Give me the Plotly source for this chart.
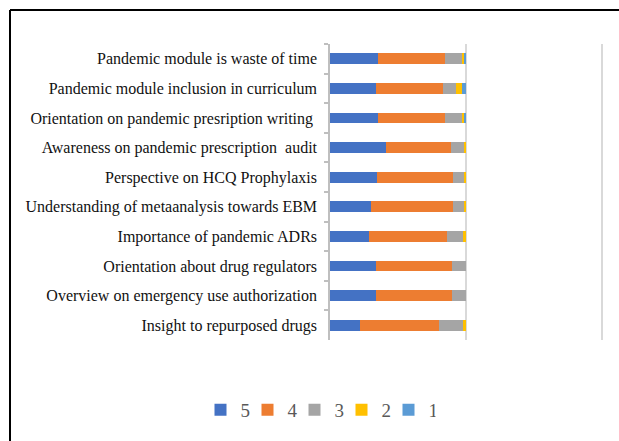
import plotly.graph_objects as go

# Survey statements, listed top to bottom
statements = [
    "Pandemic module is waste of time",
    "Pandemic module inclusion in curriculum",
    "Orientation on pandemic presription writing ",
    "Awareness on pandemic prescription  audit",
    "Perspective on HCQ Prophylaxis",
    "Understanding of metaanalysis towards EBM",
    "Importance of pandemic ADRs",
    "Orientation about drug regulators",
    "Overview on emergency use authorization",
    "Insight to repurposed drugs",
]

# Share of responses (%) for each Likert score
score_5 = [35.0, 34.0, 35.0, 41.5, 34.6, 30.4, 28.9, 33.8, 33.8, 22.2]
score_4 = [50.0, 49.0, 50.0, 47.5, 55.8, 60.0, 57.0, 56.1, 56.1, 57.8]
score_3 = [12.0, 10.0, 12.0, 10.3, 8.4, 8.4, 11.9, 10.1, 10.1, 17.8]
score_2 = [1.7, 4.5, 1.7, 0.7, 1.2, 1.2, 2.2, 0.0, 0.0, 2.2]
score_1 = [1.3, 2.5, 1.3, 0.0, 0.0, 0.0, 0.0, 0.0, 0.0, 0.0]

series = [
    ("5", score_5, "#4472C4"),
    ("4", score_4, "#ED7D31"),
    ("3", score_3, "#A5A5A5"),
    ("2", score_2, "#FFC000"),
    ("1", score_1, "#5B9BD5"),
]

fig = go.Figure()
for name, vals, color in series:
    fig.add_trace(go.Bar(
        y=statements, x=vals, name=name, orientation="h",
        marker=dict(color=color, line=dict(width=0)),
    ))

W, H = 619, 441
X_MAX = 204  # a little headroom so the 200 gridline is drawn
L, R, T, B = 330, 12, 44, 101
pw, ph = W - L - R, H - T - B

def px_x(p):
    return (p - L) / pw

def px_y(p):
    return (H - B - p) / ph

fig.update_layout(
    width=W, height=H,
    margin=dict(l=L, r=R, t=T, b=B),
    barmode="stack",
    bargap=0.64,
    plot_bgcolor="white",
    paper_bgcolor="white",
    font=dict(family="Liberation Serif, Times New Roman, serif", color="#111111"),
    showlegend=True,
    legend=dict(
        orientation="h",
        x=px_x(318), xanchor="center",
        y=px_y(410), yanchor="middle",
        font=dict(size=19, color="#595959"),
        itemwidth=30,
        entrywidth=2,
        traceorder="normal",
    ),
    xaxis=dict(
        range=[0, X_MAX], dtick=100, showticklabels=False,
        showgrid=True, gridcolor="#D9D9D9", gridwidth=1.5,
        zeroline=False, showline=False, fixedrange=True,
    ),
    yaxis=dict(
        autorange="reversed", type="category",
        showline=True, linecolor="#BFBFBF", linewidth=1.5,
        ticks="outside", ticklen=4, tickcolor="#BFBFBF", tickwidth=1.5,
        tickson="boundaries",
        tickfont=dict(size=16, color="#111111"),
        ticklabelstandoff=8,
        showgrid=False,
    ),
    shapes=[
        dict(type="line", xref="paper", yref="paper",
             x0=px_x(10), x1=px_x(W + 20), y0=px_y(10), y1=px_y(10),
             line=dict(color="black", width=2)),
        dict(type="line", xref="paper", yref="paper",
             x0=px_x(10), x1=px_x(10), y0=px_y(10), y1=px_y(H + 20),
             line=dict(color="black", width=2)),
    ],
)

fig.write_html("out.html")
